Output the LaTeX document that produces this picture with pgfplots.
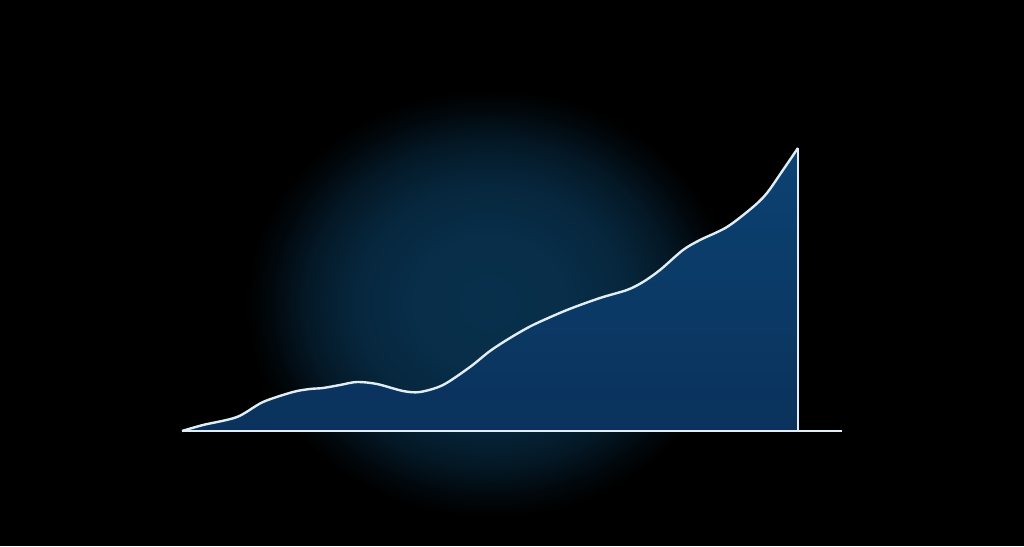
\documentclass[border=0pt]{standalone}
\usepackage{pgfplots}
\pgfplotsset{compat=1.18}
\definecolor{glowc}{RGB}{8,48,76}
\definecolor{filltop}{RGB}{12,66,114}
\definecolor{fillbot}{RGB}{10,50,92}
\definecolor{linec}{RGB}{226,238,246}
\pgfdeclareradialshading{glow}{\pgfpoint{0bp}{0bp}}{color(0bp)=(glowc); color(8bp)=(glowc!95!black); color(14bp)=(glowc!80!black); color(19bp)=(glowc!50!black); color(22.5bp)=(glowc!18!black); color(25bp)=(black); color(50bp)=(black)}
\pgfplotstableread{
x h
182 0
203 6
237 14
263 29
293 39
310 42
323 43
340 46
357 49
377 47
403 40
420 39
443 46
470 64
490 80
510 93
533 106
567 121
600 133
627 141
643 149
660 161
683 181
700 191
727 204
753 224
767 238
783 261
798 283
}\curve
\begin{document}
\begin{tikzpicture}
\useasboundingbox (0,0) rectangle (768pt,409.5pt);
\clip (0,0) rectangle (768pt,409.5pt);
\fill[black] (0,0) rectangle (768pt,409.5pt);
\shade[shading=glow] (367.5pt,182pt) ellipse [x radius=182pt, y radius=160pt];
\begin{axis}[
  at={(0,0)}, anchor=south west,
  scale only axis, width=768pt, height=409.5pt,
  xmin=0, xmax=1024, ymin=-115, ymax=431,
  hide axis, clip=false,
]
\addplot[draw=none, top color=filltop, bottom color=fillbot, smooth, tension=0.5] table[x=x,y=h] {\curve} \closedcycle;
\addplot[linec, line width=1.8pt, smooth, tension=0.5] table[x=x,y=h] {\curve};
\addplot[linec, line width=1.7pt] coordinates {(798,0) (798,283)};
\addplot[linec, line width=1.8pt] coordinates {(182,0) (842,0)};
\end{axis}
\end{tikzpicture}
\end{document}
